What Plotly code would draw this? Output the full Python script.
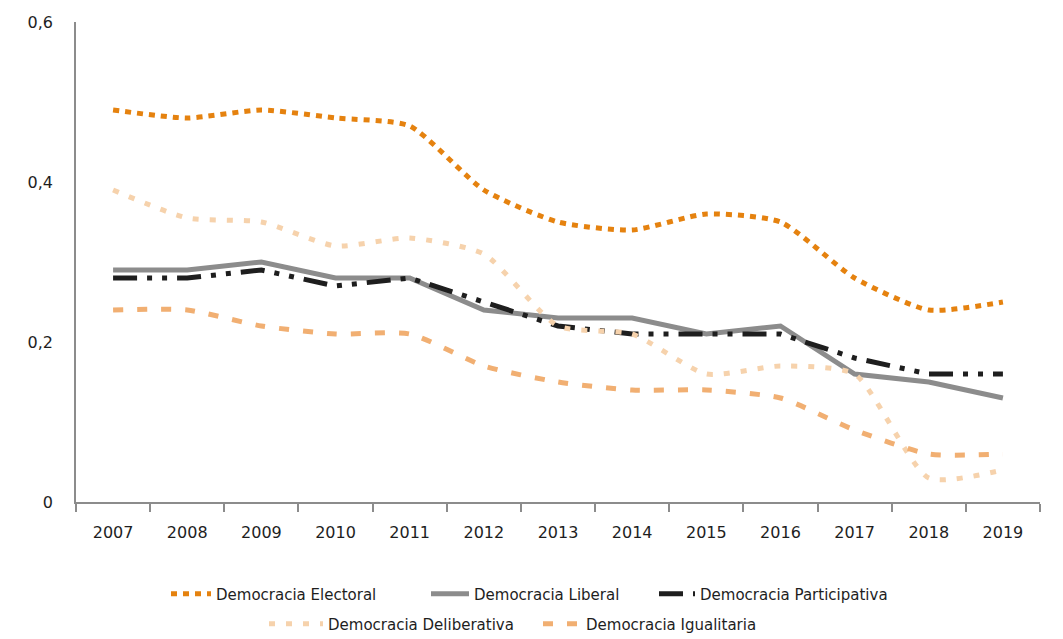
import plotly.graph_objects as go

years = ["2007", "2008", "2009", "2010", "2011", "2012", "2013",
         "2014", "2015", "2016", "2017", "2018", "2019"]
electoral = [0.49, 0.48, 0.49, 0.48, 0.47, 0.39, 0.35, 0.34, 0.36, 0.35, 0.28, 0.24, 0.25]
liberal = [0.29, 0.29, 0.30, 0.28, 0.28, 0.24, 0.23, 0.23, 0.21, 0.22, 0.16, 0.15, 0.13]
participativa = [0.28, 0.28, 0.29, 0.27, 0.28, 0.25, 0.22, 0.21, 0.21, 0.21, 0.18, 0.16, 0.16]
deliberativa = [0.39, 0.355, 0.35, 0.32, 0.33, 0.31, 0.22, 0.21, 0.16, 0.17, 0.16, 0.03, 0.04]
igualitaria = [0.24, 0.24, 0.22, 0.21, 0.21, 0.17, 0.15, 0.14, 0.14, 0.13, 0.09, 0.06, 0.06]

ytick_vals = [0, 0.2, 0.4, 0.6]
ytick_text = ["0", "0,2", "0,4", "0,6"]

FONT = "DejaVu Sans"
TXT = "#1E1E1E"
W, H = 1063, 639
fig = go.Figure()

fig.add_trace(go.Scatter(x=years, y=electoral, name="Democracia Electoral", mode="lines",
                         line=dict(color="#E5820F", width=5, dash="6px,6px", shape="spline", smoothing=0.6),
                         legend="legend"))
fig.add_trace(go.Scatter(x=years, y=liberal, name="Democracia Liberal", mode="lines",
                         line=dict(color="#8C8C8C", width=5),
                         legend="legend2"))
fig.add_trace(go.Scatter(x=years, y=participativa, name="Democracia Participativa", mode="lines",
                         line=dict(color="#1E1E1E", width=5, dash="24px,10px,5px,10px,5px,10px"),
                         legend="legend3"))
fig.add_trace(go.Scatter(x=years, y=deliberativa, name="Democracia Deliberativa", mode="lines",
                         line=dict(color="#F6D2AC", width=5, dash="6px,11px", shape="spline", smoothing=0.6),
                         legend="legend4"))
fig.add_trace(go.Scatter(x=years, y=igualitaria, name="Democracia Igualitaria", mode="lines",
                         line=dict(color="#F1AF72", width=5, dash="10px,14px", shape="spline", smoothing=0.6),
                         legend="legend5"))


def leg(px, py, iw=36):
    return dict(orientation="h", xref="container", yref="container",
                x=px / W, y=1 - py / H, xanchor="left", yanchor="middle",
                font=dict(family=FONT, size=15, color=TXT),
                bgcolor="rgba(0,0,0,0)", itemwidth=iw)


fig.update_layout(
    width=W, height=H,
    margin=dict(l=76, r=23, t=22, b=137, autoexpand=False),
    paper_bgcolor="white", plot_bgcolor="white",
    font=dict(family=FONT, size=16, color=TXT),
    showlegend=True,
    legend=leg(166, 594, 40),
    legend2=leg(426, 594, 38),
    legend3=leg(654, 594),
    legend4=leg(264, 624, 54),
    legend5=leg(538, 624, 38),
    xaxis=dict(type="category", range=[-0.5, len(years) - 0.5], showgrid=False,
               showline=True, linecolor="#8C8C8C", linewidth=1.5,
               ticks="outside", tickson="boundaries", ticklen=8, tickcolor="#8C8C8C", tickwidth=1.5,
               tickfont=dict(family=FONT, size=16, color=TXT), ticklabelstandoff=15),
    yaxis=dict(range=[0, 0.6], showgrid=False, showline=True, linecolor="#8C8C8C", linewidth=1.5,
               tickvals=ytick_vals, ticktext=ytick_text, ticks="", zeroline=False,
               tickfont=dict(family=FONT, size=16, color=TXT), ticklabelstandoff=18),
)

fig.write_html("out.html", config={"displayModeBar": False},
               post_script="document.body.style.margin='0';document.body.style.overflow='hidden';")
